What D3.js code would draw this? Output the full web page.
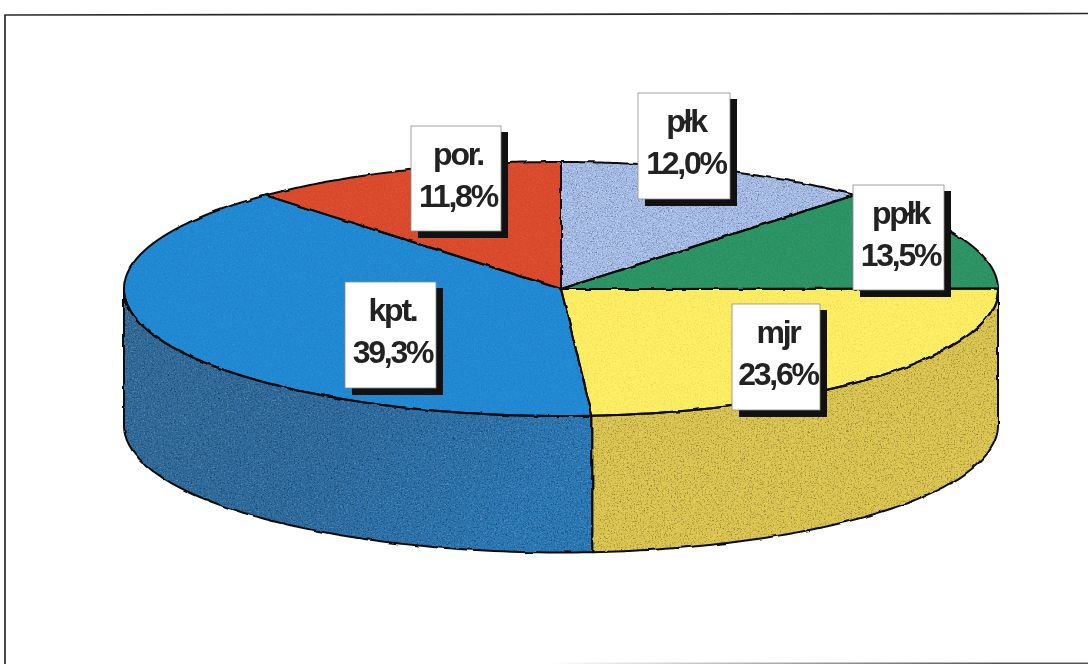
<!DOCTYPE html>
<html><head><meta charset="utf-8"><script src="https://cdn.jsdelivr.net/npm/d3@7"></script>
<style>html,body{margin:0;background:#fff}svg{display:block}</style></head><body>
<svg id="c" width="1088" height="664"></svg>
<script>
const categories=["płk","ppłk","mjr","kpt.","por."];
const values=[12.0,13.5,23.6,39.3,11.8];
const labels=["12,0%","13,5%","23,6%","39,3%","11,8%"];
const topColors=["#a3bbe8","#2b9464","#fdee62","#2089d4","#dc4a2c"];
const sideColors=["#8090a8","#237048","#dcc64e","#2a6ea8","#a83a26"];
const labelBoxes=[[638,93,92,106],[853,185,91,105],[732,304,88,106],[345,282,91,106],[411,126,90,105]];
// the original's projected pie shifts some slice edges slightly
const skewKnots=[0,91.8,176.8,360], skewDeg=[0,1.8,0.5,0];

const svg=d3.select("#c");
const defs=svg.append("defs");
function grain(id,freq,dark,light,seed){
  const f=defs.append("filter").attr("id",id).attr("x",0).attr("y",0).attr("width","100%").attr("height","100%").attr("color-interpolation-filters","sRGB");
  f.append("feTurbulence").attr("type","fractalNoise").attr("baseFrequency",freq).attr("numOctaves",2).attr("seed",seed).attr("result","n");
  f.append("feColorMatrix").attr("in","n").attr("type","matrix").attr("values",`0 0 0 0 0  0 0 0 0 0  0 0 0 0 0  ${dark} 0 0 0 ${-dark*0.5}`).attr("result","d");
  f.append("feColorMatrix").attr("in","n").attr("type","matrix").attr("values",`0 0 0 0 1  0 0 0 0 1  0 0 0 0 1  0 ${light} 0 0 ${-light*0.5}`).attr("result","l");
  f.append("feMerge").attr("result","m").selectAll("feMergeNode").data(["d","l"]).enter().append("feMergeNode").attr("in",d=>d);
  f.append("feComposite").attr("in","m").attr("in2","SourceAlpha").attr("operator","in").attr("result","dd");
  f.append("feMerge").selectAll("feMergeNode").data(["SourceGraphic","dd"]).enter().append("feMergeNode").attr("in",d=>d);
}
grain("grainHeavy",0.7,1.05,0.6,4);
grain("grainMid",0.8,1.0,1.5,7);
grain("grainSoft",0.7,0.25,0.22,9);
const wob=defs.append("filter").attr("id","wobble").attr("filterUnits","userSpaceOnUse").attr("x",0).attr("y",0).attr("width",1088).attr("height",664).attr("color-interpolation-filters","sRGB");
wob.append("feTurbulence").attr("type","fractalNoise").attr("baseFrequency",0.07).attr("numOctaves",2).attr("seed",3).attr("result","w");
wob.append("feDisplacementMap").attr("in","SourceGraphic").attr("in2","w").attr("scale",3).attr("xChannelSelector","R").attr("yChannelSelector","G");
const wallGrad=defs.append("linearGradient").attr("id","blueWall").attr("gradientUnits","userSpaceOnUse").attr("x1",125).attr("y1",300).attr("x2",500).attr("y2",560);
wallGrad.selectAll("stop").data([["0","#2f6a98"],["0.55","#2b6a9f"],["1","#2878b6"]]).enter().append("stop").attr("offset",d=>d[0]).attr("stop-color",d=>d[1]);

// page frame
const fr=d3.line();
svg.append("path").attr("d",fr([[5,664],[5,15],[1088,13.5]])).attr("fill","none").attr("stroke","#2a2a2a").attr("stroke-width",1.7);
const bg=defs.append("linearGradient").attr("id","fade").attr("gradientUnits","userSpaceOnUse").attr("x1",550).attr("y1",0).attr("x2",1000).attr("y2",0);
bg.selectAll("stop").data([["0","#fff"],["1","#555"]]).enter().append("stop").attr("offset",d=>d[0]).attr("stop-color",d=>d[1]);
svg.append("rect").attr("x",550).attr("y",662.5).attr("width",538).attr("height",1.5).attr("fill","url(#fade)");

const cx=561,cy=289,rx=437,ry=127,depth=136.5;
const pie=d3.pie().sort(null).value(d=>d).startAngle(0).endAngle(2*Math.PI)(values);
const skew=d3.scaleLinear().domain(skewKnots).range(skewDeg);
const warp=a=>{const deg=a*180/Math.PI;return (deg-skew(deg))*Math.PI/180;};
const pt=(a,dy=0)=>[cx+rx*Math.sin(a),cy-ry*Math.cos(a)+dy];
const scaleA=d3.scaleLinear().domain([0,1]);
function arcPts(a0,a1,dy=0){
  const s=scaleA.copy().range([a0,a1]);
  return d3.range(0,1.0001,1/80).map(t=>pt(s(t),dy));
}
const line=d3.line();
const g=svg.append("g").attr("filter","url(#wobble)").attr("stroke-linejoin","round");
const shapes=[];
pie.forEach((p,i)=>{
  const s=warp(p.startAngle),e=warp(p.endAngle);
  const a0=Math.max(s,Math.PI/2),a1=Math.min(e,3*Math.PI/2);
  if(a1<=a0)return;
  const outline=arcPts(a0,a1).concat(arcPts(a0,a1,depth).reverse());
  shapes.push({d:line(outline)+"Z",fill:i===3?"url(#blueWall)":sideColors[i],filter:"url(#grainHeavy)"});
});
pie.forEach((p,i)=>{
  const outline=[[cx,cy]].concat(arcPts(warp(p.startAngle),warp(p.endAngle)));
  shapes.push({d:line(outline)+"Z",fill:topColors[i],filter:i===0?"url(#grainMid)":"url(#grainSoft)"});
});
shapes.forEach(s=>g.append("path").attr("d",s.d).attr("fill",s.fill).attr("filter",s.filter));
shapes.forEach(s=>g.append("path").attr("d",s.d).attr("fill","none").attr("stroke","#0c0c0c").attr("stroke-width",2));

// labels
const ff="'Liberation Sans',Arial,sans-serif";
categories.forEach((c,i)=>{
  const [x,y,w,h]=labelBoxes[i];
  svg.append("rect").attr("x",x+7).attr("y",y+6).attr("width",w).attr("height",h+1).attr("fill","#111");
  svg.append("rect").attr("x",x).attr("y",y).attr("width",w).attr("height",h).attr("fill","#fff").attr("stroke","#8a8a8a").attr("stroke-width",.8);
  const t=svg.append("text").attr("text-anchor","middle").attr("font-family",ff).attr("font-weight","bold").attr("font-size",32).attr("fill","#222").attr("letter-spacing",-2.2);
  t.append("tspan").attr("x",x+w/2+2).attr("y",y+39).text(c);
  t.append("tspan").attr("x",x+w/2+2).attr("y",y+81).text(labels[i]);
});
</script></body></html>
